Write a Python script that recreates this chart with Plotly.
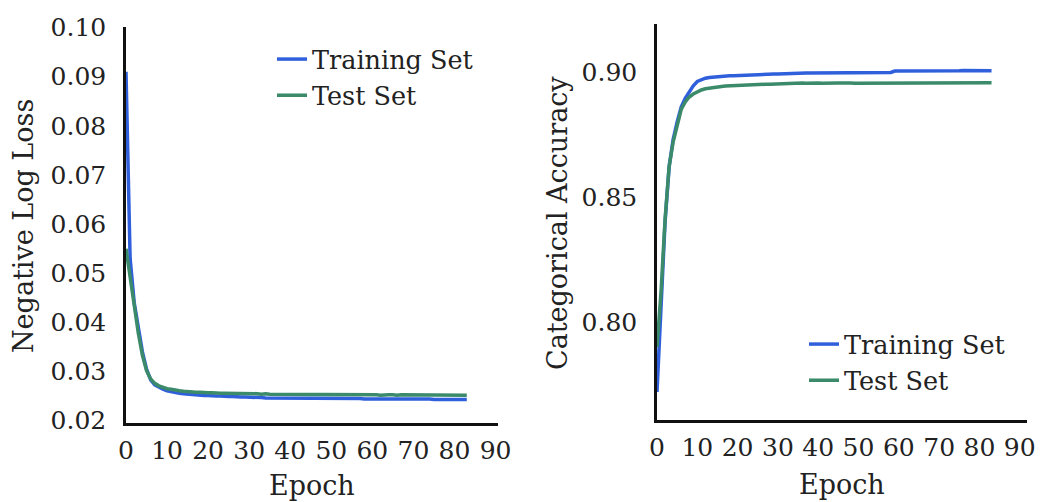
import plotly.graph_objects as go

epochs = list(range(84))

train_loss = [
    0.0910, 0.0530, 0.0440, 0.0390, 0.0340, 0.0305, 0.0283, 0.0273, 0.0268, 0.0264,
    0.0261, 0.0259, 0.0257, 0.0256, 0.0255, 0.0254, 0.0253, 0.0252, 0.0252, 0.0251,
    0.0251, 0.0250, 0.0250, 0.0250, 0.0249, 0.0249, 0.0249, 0.0248, 0.0248, 0.0248,
    0.0248, 0.0247, 0.0247, 0.0247, 0.0246, 0.0246, 0.0246, 0.0246, 0.0246, 0.0246,
    0.0246, 0.0246, 0.0246, 0.0245, 0.0246, 0.0245, 0.0245, 0.0245, 0.0246, 0.0245,
    0.0245, 0.0245, 0.0245, 0.0245, 0.0245, 0.0246, 0.0245, 0.0245, 0.0244, 0.0244,
    0.0244, 0.0245, 0.0244, 0.0244, 0.0244, 0.0244, 0.0244, 0.0244, 0.0244, 0.0244,
    0.0244, 0.0244, 0.0244, 0.0244, 0.0244, 0.0243, 0.0243, 0.0243, 0.0243, 0.0243,
    0.0243, 0.0243, 0.0243, 0.0243,
]

test_loss = [
    0.0550, 0.0490, 0.0432, 0.0378, 0.0333, 0.0302, 0.0285, 0.0276, 0.0271, 0.0268,
    0.0265, 0.0264, 0.0262, 0.0261, 0.0260, 0.0259, 0.0259, 0.0258, 0.0258, 0.0257,
    0.0257, 0.0257, 0.0256, 0.0256, 0.0256, 0.0256, 0.0255, 0.0256, 0.0255, 0.0255,
    0.0255, 0.0255, 0.0255, 0.0254, 0.0255, 0.0254, 0.0254, 0.0254, 0.0254, 0.0254,
    0.0254, 0.0254, 0.0254, 0.0254, 0.0253, 0.0254, 0.0254, 0.0253, 0.0253, 0.0254,
    0.0253, 0.0253, 0.0253, 0.0254, 0.0253, 0.0253, 0.0253, 0.0253, 0.0253, 0.0253,
    0.0253, 0.0253, 0.0252, 0.0253, 0.0253, 0.0253, 0.0252, 0.0253, 0.0253, 0.0252,
    0.0253, 0.0252, 0.0252, 0.0253, 0.0252, 0.0252, 0.0252, 0.0252, 0.0252, 0.0252,
    0.0252, 0.0252, 0.0252, 0.0252,
]

train_acc = [
    0.7720, 0.8100, 0.8400, 0.8620, 0.8730, 0.8800, 0.8860, 0.8895, 0.8920, 0.8945,
    0.8962, 0.8970, 0.8975, 0.8978, 0.8980, 0.8982, 0.8983, 0.8984, 0.8985, 0.8985,
    0.8986, 0.8987, 0.8988, 0.8988, 0.8989, 0.8990, 0.8990, 0.8991, 0.8991, 0.8992,
    0.8992, 0.8993, 0.8993, 0.8994, 0.8994, 0.8995, 0.8995, 0.8996, 0.8996, 0.8996,
    0.8996, 0.8997, 0.8996, 0.8996, 0.8997, 0.8996, 0.8996, 0.8997, 0.8996, 0.8996,
    0.8997, 0.8996, 0.8996, 0.8997, 0.8996, 0.8996, 0.8997, 0.8997, 0.8998, 0.9004,
    0.9004, 0.9004, 0.9003, 0.9004, 0.9004, 0.9003, 0.9004, 0.9003, 0.9004, 0.9003,
    0.9003, 0.9004, 0.9003, 0.9002, 0.9003, 0.9005, 0.9006, 0.9006, 0.9005, 0.9005,
    0.9004, 0.9005, 0.9005, 0.9005,
]

test_acc = [
    0.7900, 0.8120, 0.8410, 0.8620, 0.8720, 0.8790, 0.8850, 0.8880, 0.8900, 0.8912,
    0.8922, 0.8928, 0.8933, 0.8936, 0.8939, 0.8941, 0.8942, 0.8944, 0.8945, 0.8946,
    0.8947, 0.8947, 0.8948, 0.8949, 0.8949, 0.8950, 0.8950, 0.8951, 0.8951, 0.8952,
    0.8953, 0.8953, 0.8954, 0.8955, 0.8955, 0.8956, 0.8956, 0.8955, 0.8956, 0.8956,
    0.8956, 0.8955, 0.8956, 0.8956, 0.8955, 0.8956, 0.8956, 0.8957, 0.8956, 0.8955,
    0.8955, 0.8956, 0.8956, 0.8956, 0.8957, 0.8956, 0.8957, 0.8957, 0.8958, 0.8958,
    0.8958, 0.8957, 0.8958, 0.8957, 0.8957, 0.8958, 0.8957, 0.8957, 0.8957, 0.8956,
    0.8957, 0.8957, 0.8956, 0.8957, 0.8957, 0.8957, 0.8957, 0.8956, 0.8957, 0.8957,
    0.8957, 0.8957, 0.8957, 0.8957,
]

x_ticks = [0, 10, 20, 30, 40, 50, 60, 70, 80, 90]
loss_ticks = [0.02, 0.03, 0.04, 0.05, 0.06, 0.07, 0.08, 0.09, 0.10]
acc_ticks = [0.80, 0.85, 0.90]

BLUE = "#2F5FDB"
GREEN = "#3B8B6B"
TXT = "#222222"
FONT = "DejaVu Serif"
TICK_FS = 25
TITLE_FS = 27
LEG_FS = 25.5

fig = go.Figure()
fig.add_trace(go.Scatter(x=epochs, y=train_loss, mode="lines", name="Training Set",
                         line=dict(color=BLUE, width=3.5), xaxis="x", yaxis="y", legend="legend"))
fig.add_trace(go.Scatter(x=epochs, y=test_loss, mode="lines", name="Test Set",
                         line=dict(color=GREEN, width=3.5), xaxis="x", yaxis="y", legend="legend"))
fig.add_trace(go.Scatter(x=epochs, y=train_acc, mode="lines", name="Training Set",
                         line=dict(color=BLUE, width=3.5), xaxis="x2", yaxis="y2", legend="legend2"))
fig.add_trace(go.Scatter(x=epochs, y=test_acc, mode="lines", name="Test Set",
                         line=dict(color=GREEN, width=3.5), xaxis="x2", yaxis="y2", legend="legend2"))

W, H = 1047, 502
axis_common = dict(showline=True, linecolor="#111111", linewidth=2.5, showgrid=False,
                   zeroline=False, ticks="", automargin=False,
                   tickfont=dict(family=FONT, size=TICK_FS, color=TXT))

fig.update_layout(
    width=W, height=H,
    margin=dict(l=0, r=0, t=0, b=0),
    paper_bgcolor="white", plot_bgcolor="white",
    font=dict(family=FONT, size=TICK_FS, color=TXT),
    xaxis=dict(domain=[126 / W, 498 / W], range=[0, 90.6], tickvals=x_ticks,
               ticklabelstandoff=3, anchor="y", **axis_common),
    yaxis=dict(domain=[1 - 423 / H, 1 - 27 / H], range=[0.01953, 0.1001], tickvals=loss_ticks,
               tickformat=".2f", ticklabelstandoff=12, anchor="x", **axis_common),
    xaxis2=dict(domain=[657 / W, 1027 / W], range=[0, 91.8], tickvals=x_ticks,
                ticklabelstandoff=3, anchor="y2", **axis_common),
    yaxis2=dict(domain=[1 - 420 / H, 1 - 24 / H], range=[0.7608, 0.9192], tickvals=acc_ticks,
                tickformat=".2f", ticklabelstandoff=12, anchor="x2", **axis_common),
    legend=dict(x=272 / W, y=1 - 36 / H, xanchor="left", yanchor="top",
                bgcolor="rgba(0,0,0,0)", font=dict(family=FONT, size=LEG_FS, color=TXT)),
    legend2=dict(x=804 / W, y=1 - 321 / H, xanchor="left", yanchor="top",
                 bgcolor="rgba(0,0,0,0)", font=dict(family=FONT, size=LEG_FS, color=TXT)),
    showlegend=True,
)

title_font = dict(family=FONT, size=TITLE_FS, color=TXT)
for (tx, ty, text, ang) in [
    (312, 485, "Epoch", 0),
    (842, 484, "Epoch", 0),
    (23, 226, "Negative Log Loss", -90),
    (557, 223, "Categorical Accuracy", -90),
]:
    fig.add_annotation(x=tx / W, y=1 - ty / H, xref="paper", yref="paper", text=text,
                       showarrow=False, textangle=ang, font=title_font,
                       xanchor="center", yanchor="middle")

fig.write_html("out.html", config={"displayModeBar": False},
               post_script="document.body.style.margin='0';document.body.style.overflow='hidden';")
